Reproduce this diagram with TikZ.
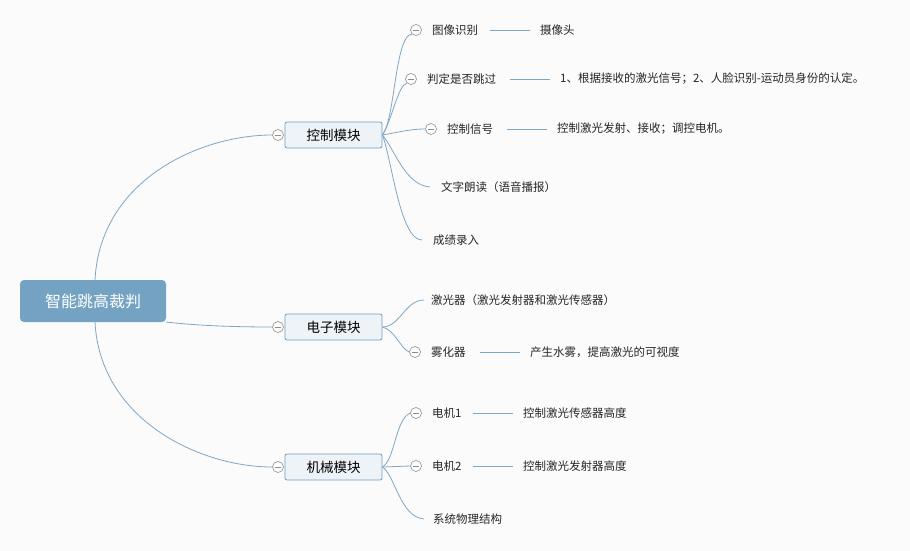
\documentclass[tikz,border=0pt]{standalone}
\usepackage{fontspec}
\newfontfamily\cjk{Noto Sans CJK SC}
\begin{document}
\begin{tikzpicture}[x=1pt,y=-1pt,
  line/.style={draw=lineblue,line width=0.8pt},
  leaf/.style={font=\cjk\fontsize{11.5}{12}\selectfont,text=black!85,anchor=west,inner sep=0pt},
  mid/.style={draw=boxblue,line width=0.8pt,fill=midfill,rounded corners=2pt,minimum width=97pt,minimum height=26pt,font=\cjk\fontsize{13.5}{14}\selectfont,inner sep=0pt},
  col/.style={circle,draw=gray!80,fill=white,line width=0.7pt,minimum size=11pt,inner sep=0pt,path picture={\draw[gray!90,line width=0.7pt] ([xshift=-3pt]path picture bounding box.center)--([xshift=3pt]path picture bounding box.center);}}]
\definecolor{lineblue}{HTML}{7FA6C4}
\definecolor{boxblue}{HTML}{6F9CC0}
\definecolor{midfill}{HTML}{EEF3F8}
\definecolor{rootfill}{HTML}{74A2C2}
\fill[white!97!gray] (0,0) rectangle (910,551);
\useasboundingbox (0,0) rectangle (910,551);
\node[fill=rootfill,rounded corners=4pt,minimum width=146pt,minimum height=42pt,text=white,font=\cjk\fontsize{16}{17}\selectfont,inner sep=0pt] (root) at (93,301) {智能跳高裁判};
\node[mid] (c) at (333.5,135) {控制模块};
\node[mid] (e) at (333.5,327) {电子模块};
\node[mid] (m) at (333.5,467) {机械模块};
\node[col] (cc) at (278,135) {};
\node[col] (ec) at (278,327) {};
\node[col] (mc) at (278,467) {};
\draw[line] (95,280) .. controls (100,180) and (200,135) .. (cc.west);
\draw[line] (166,322) .. controls (200,326) and (240,327) .. (ec.west);
\draw[line] (95,322) .. controls (100,420) and (200,467) .. (mc.west);
% control leaves
\node[col] (c1c) at (416,30) {};
\node[leaf] (c1) at (432,30) {图像识别};
\node[leaf] (c1r) at (540,30) {摄像头};
\draw[line] (490,30) -- (530,30);
\node[col] (c2c) at (411,79) {};
\node[leaf] (c2) at (427,79) {判定是否跳过};
\node[leaf] (c2r) at (560,79) {1、根据接收的激光信号；2、人脸识别-运动员身份的认定。};
\draw[line] (510,79) -- (550,79);
\node[col] (c3c) at (431,129) {};
\node[leaf] (c3) at (447,129) {控制信号};
\node[leaf] (c3r) at (557,129) {控制激光发射、接收；调控电机。};
\draw[line] (507,129) -- (547,129);
\node[leaf] (c4) at (441,187) {文字朗读（语音播报）};
\node[leaf] (c5) at (433,240) {成绩录入};
\coordinate (co) at (c.east);
\draw[line] (co) .. controls (395,120) and (395,35) .. (c1c.south west);
\draw[line] (co) .. controls (392,120) and (398,85) .. (c2c.south west);
\draw[line] (co) .. controls (400,132) and (410,129) .. (c3c.west);
\draw[line] (co) .. controls (395,150) and (405,185) .. (430,187);
\draw[line] (co) .. controls (392,160) and (400,240) .. (422,240);
% electronic
\node[leaf] (e1) at (431,300) {激光器（激光发射器和激光传感器）};
\node[col] (e2c) at (415,352) {};
\node[leaf] (e2) at (431,352) {雾化器};
\node[leaf] (e2r) at (530,352) {产生水雾，提高激光的可视度};
\draw[line] (480,352) -- (520,352);
\draw[line] (e.east) .. controls (400,327) and (405,300) .. (424,300);
\draw[line] (e.east) .. controls (395,330) and (400,348) .. (e2c.west);
% mechanical
\node[col] (m1c) at (416,413) {};
\node[leaf] (m1) at (432,413) {电机1};
\node[leaf] (m1r) at (523,413) {控制激光传感器高度};
\draw[line] (473,413) -- (513,413);
\node[col] (m2c) at (416,466) {};
\node[leaf] (m2) at (432,466) {电机2};
\node[leaf] (m2r) at (523,466) {控制激光发射器高度};
\draw[line] (473,466) -- (513,466);
\node[leaf] (m3) at (433,519) {系统物理结构};
\draw[line] (m.east) .. controls (395,460) and (395,420) .. (m1c.west);
\draw[line] (m.east) -- (m2c.west);
\draw[line] (m.east) .. controls (395,475) and (400,517) .. (424,519);
\end{tikzpicture}
\end{document}
